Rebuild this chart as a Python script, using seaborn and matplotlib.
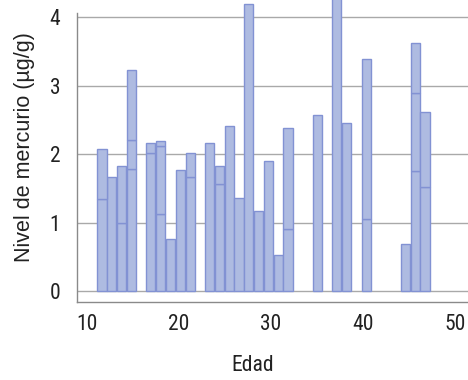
import numpy as np
import pandas as pd
import seaborn as sns
import matplotlib
matplotlib.use("Agg")
import matplotlib.pyplot as plt
from matplotlib import font_manager
from matplotlib.transforms import ScaledTranslation

# Age of each group (years) and the stacked mercury levels (µg/g), bottom to top
ages = [11, 12, 13, 14, 16, 17, 18, 19, 20, 22, 23, 24, 25, 26, 27, 28, 29, 30,
        33, 35, 36, 38, 42, 43, 44]
nivel_1 = [1.34, 1.67, 1.00, 1.78, 2.02, 1.12, 0.76, 1.77, 1.67, 2.17, 1.57, 2.41,
           1.36, 4.19, 1.17, 1.90, 0.52, 0.91, 2.57, 4.45, 2.46, 1.05, 0.68, 1.76, 1.52]
nivel_2 = [0.74, 0.00, 0.82, 0.43, 0.14, 1.00, 0.00, 0.00, 0.34, 0.00, 0.25, 0.00,
           0.00, 0.00, 0.00, 0.00, 0.00, 1.47, 0.00, 0.00, 0.00, 2.34, 0.00, 1.13, 1.09]
nivel_3 = [0.00, 0.00, 0.00, 1.02, 0.00, 0.07, 0.00, 0.00, 0.00, 0.00, 0.00, 0.00,
           0.00, 0.00, 0.00, 0.00, 0.00, 0.00, 0.00, 0.00, 0.00, 0.00, 0.00, 0.74, 0.00]

x_ticks = [10, 20, 30, 40, 50]
y_ticks = [0, 1, 2, 3, 4]

FILL = "#aebbe1"
EDGE = "#8292d3"
GRID = "#a9a9a9"
SPINE = "#8a8a8a"
TEXT = "#222222"

# long-form table: one row per stacked segment
rows = []
for capa, vals in (("1", nivel_1), ("2", nivel_2), ("3", nivel_3)):
    for a, v in zip(ages, vals):
        if v > 0:
            rows.append({"Edad": a, "Nivel": v, "capa": capa})
df = pd.DataFrame(rows)

sns.set_theme(style="white")
names = {f.name for f in font_manager.fontManager.ttflist}
for cand in ("Roboto Condensed", "Liberation Sans Narrow", "DejaVu Sans"):
    if cand in names:
        narrow = cand
        break
regular = "Liberation Sans" if "Liberation Sans" in names else "DejaVu Sans"
plt.rcParams["font.family"] = [narrow, "DejaVu Sans"]
plt.rcParams["font.stretch"] = "condensed"

fig = plt.figure(figsize=(4.68, 3.8), dpi=100)
# the x axis runs slightly past the right edge of the canvas
x0_px, x10_px, px_per_year = 77.0, 87.3, 9.79
x_lo, x_hi = 8.95, 50.1
right_px = x10_px + (x_hi - 10) * px_per_year
ax = fig.add_axes([x0_px / 468, (380 - 301.7) / 380,
                   (right_px - x0_px) / 468, (301.7 - 13) / 380])

sns.histplot(
    data=df, x="Edad", weights="Nivel", hue="capa", hue_order=["3", "2", "1"],
    multiple="stack", binwidth=1, binrange=(11, 45), shrink=0.93,
    palette={"1": FILL, "2": FILL, "3": FILL}, alpha=1.0,
    edgecolor=EDGE, linewidth=1.0, legend=False, ax=ax, zorder=3,
)

# drop empty bins and let tall bars run past the top of the axes
for p in ax.patches:
    if p.get_height() <= 0:
        p.set_visible(False)
    p.set_clip_on(False)

ax.set_xticks(x_ticks)
ax.set_yticks(y_ticks)
ax.set_xlim(x_lo, x_hi)
ax.set_ylim(-0.156, 4.063)
ax.yaxis.grid(True, color=GRID, linewidth=1.0, zorder=0)
ax.xaxis.grid(False)
ax.set_axisbelow(True)

for side in ("top", "right"):
    ax.spines[side].set_visible(False)
for side in ("left", "bottom"):
    ax.spines[side].set_color(SPINE)
    ax.spines[side].set_linewidth(1.0)

ax.tick_params(axis="x", direction="out", length=4, width=1, color=SPINE,
               pad=5, labelsize=15.5, labelcolor=TEXT)
ax.tick_params(axis="y", direction="out", length=5, width=1, color=SPINE,
               pad=7, labelsize=15.5, labelcolor=TEXT)

ax.set_xlabel("Edad", fontsize=15.5, color=TEXT)
ax.set_ylabel("Nivel de mercurio (µg/g)", fontsize=15.5, color=TEXT,
              family=[regular, "DejaVu Sans"], fontstretch="normal")
ax.xaxis.set_label_coords(0.437, -0.186)
ax.yaxis.set_label_coords(-0.105, 0.536)

# x tick labels sit progressively left of their tick marks
for i, lab in enumerate(ax.get_xticklabels()):
    shift = -0.06 * i  # inches
    lab.set_transform(lab.get_transform() + ScaledTranslation(shift, 0, fig.dpi_scale_trans))

fig.savefig("out.png", dpi=100)
